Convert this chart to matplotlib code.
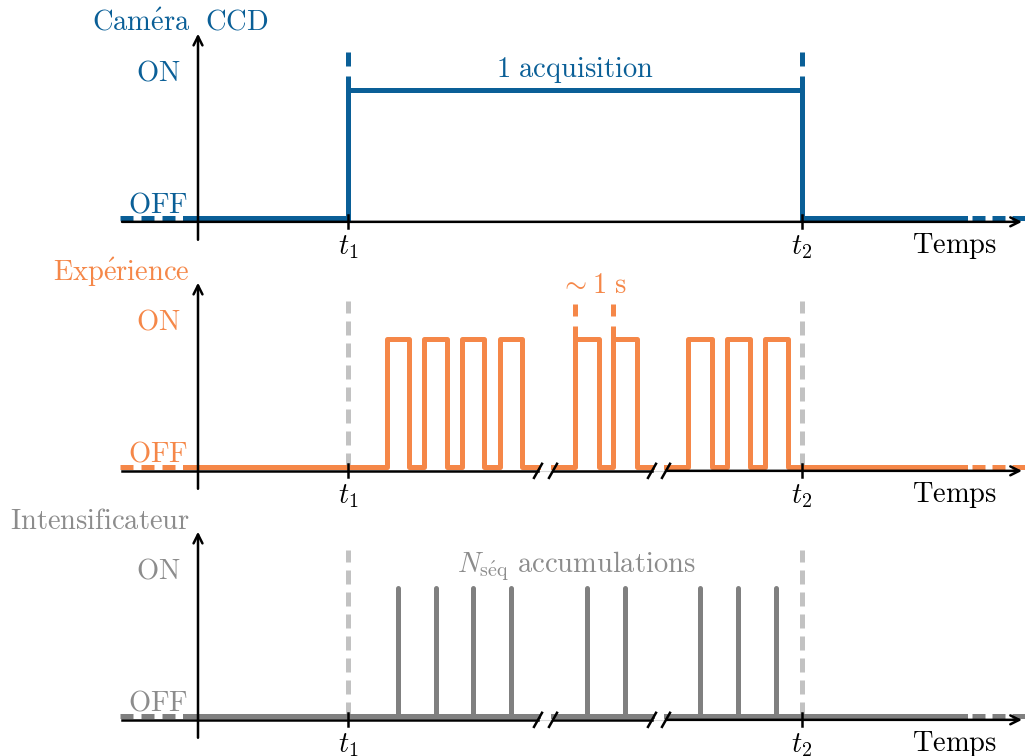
import numpy as np
import matplotlib.pyplot as plt

plt.rcParams["mathtext.fontset"] = "cm"
plt.rcParams["font.family"] = ["DejaVu Serif"]

# time axis in arbitrary units, vertical axis at t = 0
t1 = 1.50
t2 = 6.04
x_start = -0.78
x_end = 8.27
solid_lo = -0.13
solid_hi = 7.67
arrow_tip = 8.24

# axis breaks (left slash, right slash)
breaks = [(3.40, 3.55), (4.54, 4.68)]

# experiment pulses: rise / fall
exp_rise = [1.89, 2.26, 2.64, 3.02, 3.77, 4.15, 4.90, 5.29, 5.67]
exp_fall = [2.11, 2.49, 2.86, 3.24, 4.01, 4.39, 5.14, 5.52, 5.90]

# intensifier gates
gates = [2.00, 2.38, 2.75, 3.13, 3.89, 4.27, 5.02, 5.40, 5.78]

# the "~1 s" period markers
period_marks = [3.77, 4.15]

BLUE = "#0a5f97"
ORANGE = "#f58748"
GREY = "#808080"
LGREY = "#c2c2c2"
TGREY = "#8c8c8c"

LW = 3.6
AX_LW = 1.8
FS = 20.5
Y_AX = -0.03


def step_path(lo, hi, rises, falls):
    xs, ys = [lo], [0]
    for r, f in zip(rises, falls):
        if lo < r < hi:
            xs += [r, r, f, f]
            ys += [0, 1, 1, 0]
    xs.append(hi)
    ys.append(0)
    return xs, ys


def segments():
    lows = [solid_lo] + [b[1] for b in breaks]
    highs = [b[0] for b in breaks] + [solid_hi]
    return list(zip(lows, highs))


def dashed_ends(ax, color):
    ax.plot([x_start, solid_lo], [0, 0], color=color, lw=LW,
            ls=(0, (2.6, 1.6)), dash_capstyle="butt")
    ax.plot([solid_hi, x_end], [0, 0], color=color, lw=LW,
            ls=(2.6, (2.6, 1.4)), dash_capstyle="butt")


def draw_axes(ax, broken):
    # horizontal time axis
    if broken:
        lows = [x_start + 0.02] + [b[1] for b in breaks]
        highs = [b[0] for b in breaks]
        for lo, hi in zip(lows[:-1], highs):
            ax.plot([lo, hi], [Y_AX, Y_AX], color="k", lw=AX_LW, zorder=5)
        last = lows[-1]
        for b in breaks:
            ax.plot(b, [Y_AX, Y_AX], color="#d8d8d8", lw=0.8, zorder=4)
            for xb in b:
                ax.plot([xb - 0.04, xb + 0.04], [Y_AX - 0.055, Y_AX + 0.055],
                        color="k", lw=AX_LW, zorder=6)
    else:
        last = x_start + 0.02
    ax.annotate("", xy=(arrow_tip, Y_AX), xytext=(last, Y_AX),
                arrowprops=dict(arrowstyle="->", lw=AX_LW, color="k",
                                shrinkA=0, shrinkB=0, mutation_scale=16),
                zorder=5)
    # vertical axis
    ax.annotate("", xy=(0, 1.44), xytext=(0, -0.17),
                arrowprops=dict(arrowstyle="->", lw=AX_LW, color="k",
                                shrinkA=0, shrinkB=0, mutation_scale=16),
                zorder=5)
    for t in (t1, t2):
        ax.plot([t, t], [Y_AX - 0.05, Y_AX + 0.05], color="k", lw=AX_LW, zorder=6)
    ax.text(t1, -0.225, r"$t_1$", fontsize=FS, ha="center", va="center")
    ax.text(t2, -0.225, r"$t_2$", fontsize=FS, ha="center", va="center")
    ax.text(7.57, -0.22, r"$\mathrm{Temps}$", fontsize=FS, ha="center", va="center")


def state_labels(ax, title, color, title_x, title_ha):
    ax.text(title_x, 1.52, title, fontsize=FS, color=color, ha=title_ha, va="center")
    ax.text(-0.18, 1.13, r"$\mathrm{ON}$", fontsize=FS, color=color, ha="right", va="center")
    ax.text(-0.10, 0.10, r"$\mathrm{OFF}$", fontsize=FS, color=color, ha="right", va="center")


def grey_guides(ax):
    for t in (t1, t2):
        ax.plot([t, t], [0, 1.30], color=LGREY, lw=LW, ls=(0, (2.8, 1.6)),
                dash_capstyle="butt", zorder=1)


fig = plt.figure(figsize=(10.25, 7.56), dpi=100)
band = 249 / 756
axes = [fig.add_axes([0, b, 1, band]) for b in (2 * band, band, 0)]
for ax in axes:
    ax.set_xlim(-1.98, 8.27)
    ax.set_ylim(-40 / 128, 209 / 128)
    ax.axis("off")

# CCD camera
ax = axes[0]
dashed_ends(ax, BLUE)
ax.plot([solid_lo, t1, t1, t2, t2, solid_hi], [0, 0, 1, 1, 0, 0], color=BLUE,
        lw=LW, solid_joinstyle="miter", zorder=3)
for t in (t1, t2):
    ax.plot([t, t], [1, 1.30], color=BLUE, lw=LW, ls=(0, (2.8, 2.0)),
            dash_capstyle="butt", zorder=3)
ax.text((t1 + t2) / 2, 1.16, r"$1\ \mathrm{acquisition}$", fontsize=FS,
        color=BLUE, ha="center", va="center")
state_labels(ax, r"$\mathrm{Cam\acute{e}ra\ \ CCD}$", BLUE, -0.175, "center")
draw_axes(ax, broken=False)

# experiment
ax = axes[1]
grey_guides(ax)
dashed_ends(ax, ORANGE)
for lo, hi in segments():
    xs, ys = step_path(lo, hi, exp_rise, exp_fall)
    ax.plot(xs, ys, color=ORANGE, lw=LW, solid_joinstyle="round", zorder=3)
for t in period_marks:
    ax.plot([t, t], [1, 1.27], color=ORANGE, lw=LW, ls=(0, (2.6, 2.0)),
            dash_capstyle="butt", zorder=3)
ax.text(np.mean(period_marks), 1.42, r"$\sim 1\ \mathrm{s}$", fontsize=FS,
        color=ORANGE, ha="center", va="center")
state_labels(ax, r"$\mathrm{Exp\acute{e}rience}$", ORANGE, -0.08, "right")
draw_axes(ax, broken=True)

# intensifier
ax = axes[2]
grey_guides(ax)
dashed_ends(ax, GREY)
for lo, hi in segments():
    ax.plot([lo, hi], [0, 0], color=GREY, lw=LW, zorder=3)
ax.vlines(gates, 0, 1, color=GREY, lw=LW, capstyle="round", zorder=3)
ax.text(3.78, 1.17, r"$N_{\mathrm{s\acute{e}q}}\ \mathrm{accumulations}$",
        fontsize=FS, color=TGREY, ha="center", va="center")
state_labels(ax, r"$\mathrm{Intensificateur}$", TGREY, -0.08, "right")
draw_axes(ax, broken=True)

fig.savefig("out.png", dpi=100)
